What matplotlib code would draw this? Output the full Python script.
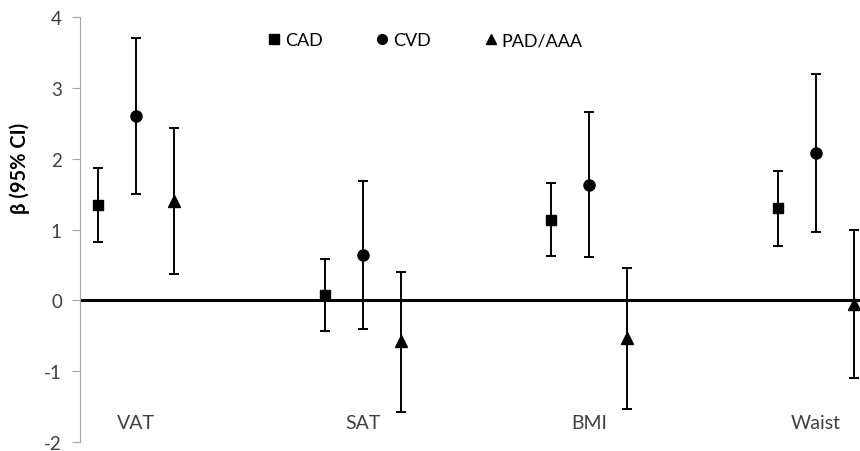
import numpy as np
import matplotlib.pyplot as plt
from matplotlib.lines import Line2D

plt.rcParams['font.family'] = ['Lato', 'DejaVu Sans']
plt.rcParams['axes.unicode_minus'] = False

categories = ["VAT", "SAT", "BMI", "Waist"]
series = ["CAD", "CVD", "PAD/AAA"]
markers = ["s", "o", "^"]

# beta and 95% CI (lower, upper) per series, one value per category
beta = {
    "CAD": [1.35, 0.07, 1.14, 1.30],
    "CVD": [2.60, 0.64, 1.63, 2.08],
    "PAD/AAA": [1.40, -0.58, -0.53, -0.05],
}
lower = {
    "CAD": [0.83, -0.44, 0.63, 0.77],
    "CVD": [1.50, -0.40, 0.61, 0.96],
    "PAD/AAA": [0.37, -1.58, -1.53, -1.10],
}
upper = {
    "CAD": [1.87, 0.59, 1.65, 1.83],
    "CVD": [3.70, 1.69, 2.66, 3.19],
    "PAD/AAA": [2.43, 0.40, 0.46, 0.99],
}

fig = plt.figure(figsize=(8.6, 4.52), dpi=100)
ax = fig.add_axes([0.093, 0.02, 0.907, 0.94])

x = np.arange(len(categories))
offsets = [-0.167, 0.0, 0.167]
for s, m, off in zip(series, markers, offsets):
    b = np.array(beta[s])
    lo = b - np.array(lower[s])
    hi = np.array(upper[s]) - b
    ax.errorbar(x + off, b, yerr=[lo, hi], fmt=m, color='black', ms=8 if m != 's' else 7.5,
                ecolor='black', elinewidth=1.4, capsize=3.6, capthick=1.4, zorder=3)

ax.axhline(0, color='black', lw=2.2, zorder=2)

ax.set_xlim(-0.247, 3.194)
ax.set_ylim(-2, 4)
ax.set_yticks(range(-2, 5))
ax.set_xticks([])
for side in ['top', 'right', 'bottom']:
    ax.spines[side].set_visible(False)
ax.spines['left'].set_color('#a6a6a6')
ax.tick_params(axis='y', colors='#a6a6a6', labelcolor='#404040', labelsize=13.5,
               length=6, width=0.8, pad=7)
ax.set_ylabel("β (95% CI)", fontsize=14.5, fontweight='bold')
ax.yaxis.set_label_coords(-0.064, 0.647)

for i, c in enumerate(categories):
    ax.text(x[i], -1.73, c, ha='center', va='center', fontsize=14, color='#404040')

handles = [Line2D([], [], marker=m, color='black', ls='none', ms=7) for m in markers]
fig.legend(handles, series, loc='center', bbox_to_anchor=(0.495, 0.909), ncol=3,
           frameon=False, fontsize=13, handlelength=0.6, handletextpad=0.3,
           columnspacing=3.0)

fig.savefig("out.png", dpi=100)
